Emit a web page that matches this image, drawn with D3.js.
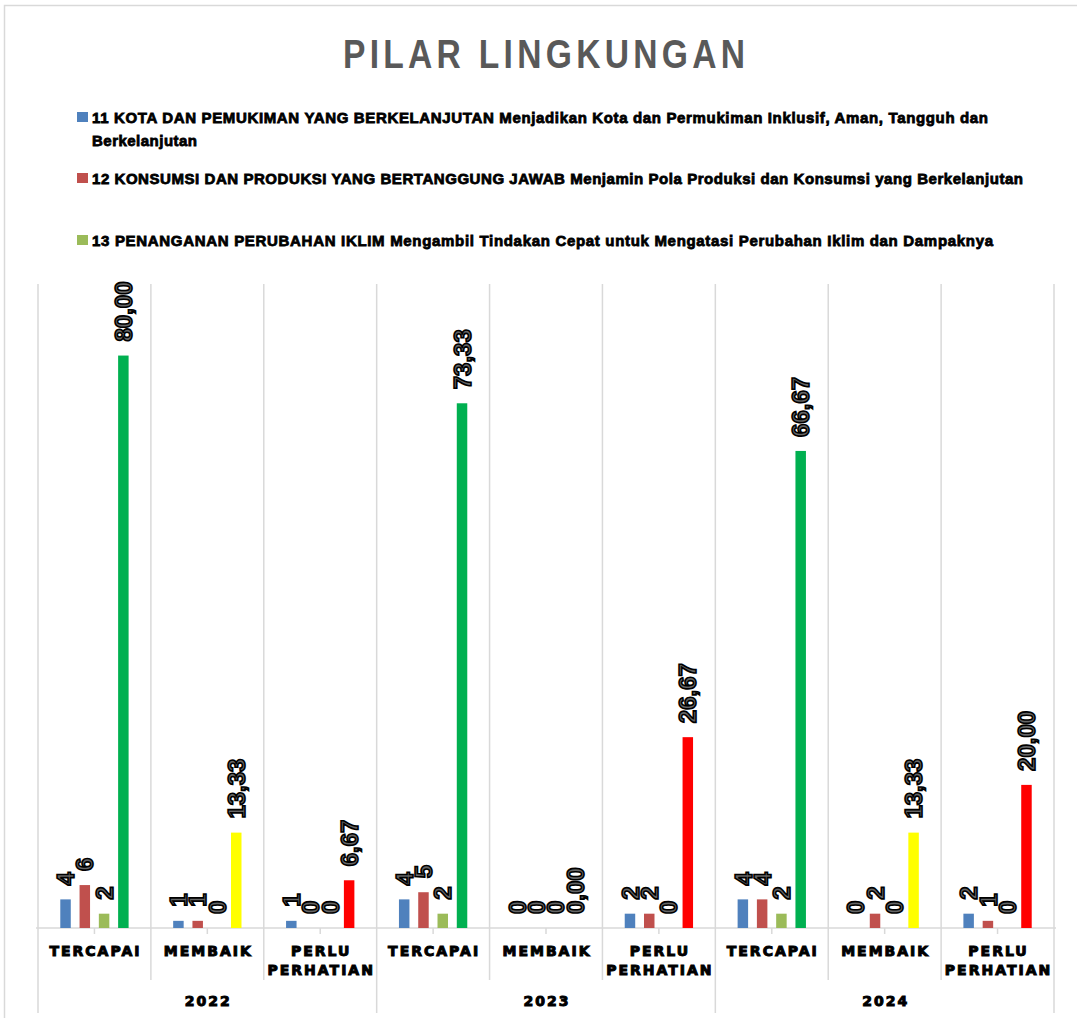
<!DOCTYPE html>
<html>
<head>
<meta charset="utf-8">
<script src="https://cdn.jsdelivr.net/npm/d3@7"></script>
<style>
  html, body { margin: 0; padding: 0; background: #fff; }
  svg { display: block; }
</style>
</head>
<body>
<svg id="chart" width="1077" height="1018"></svg>
<script>
// ---------- DATA ----------
const years = ["2022", "2023", "2024"];
const statuses = ["TERCAPAI", "MEMBAIK", "PERLU PERHATIAN"];
const sdg11 = [4, 1, 1, 4, 0, 2, 4, 0, 2];
const sdg12 = [6, 1, 0, 5, 0, 2, 4, 2, 1];
const sdg13 = [2, 0, 0, 2, 0, 0, 2, 0, 0];
const persen = [80.00, 13.33, 6.67, 73.33, 0.00, 26.67, 66.67, 13.33, 20.00];
const legendLabels = [
  ["11 KOTA DAN PEMUKIMAN YANG BERKELANJUTAN Menjadikan Kota dan Permukiman Inklusif, Aman, Tangguh dan", "Berkelanjutan"],
  ["12 KONSUMSI DAN PRODUKSI YANG BERTANGGUNG JAWAB Menjamin Pola Produksi dan Konsumsi yang Berkelanjutan"],
  ["13 PENANGANAN PERUBAHAN IKLIM Mengambil Tindakan Cepat untuk Mengatasi Perubahan Iklim dan Dampaknya"]
];
const titleText = "PILAR LINGKUNGAN";

// ---------- STYLE ----------
const seriesColors = ["#4f81bd", "#c0504d", "#9bbb59"];
const statusColors = { "TERCAPAI": "#00b050", "MEMBAIK": "#ffff00", "PERLU PERHATIAN": "#ff0000" };
const gridColor = "#d9d9d9";

const svg = d3.select("#chart");

// outer chart border
svg.append("rect").attr("x", 4.5).attr("y", 5.5).attr("width", 1200).attr("height", 1200)
  .attr("fill", "none").attr("stroke", gridColor).attr("stroke-width", 1.5);

// title (narrow, tall letters with generous spacing)
svg.append("text")
  .attr("transform", "translate(343,68) scale(0.82,1)")
  .attr("textLength", 402 / 0.82).attr("lengthAdjust", "spacing")
  .style("font-family", "'Liberation Sans', Arial, sans-serif")
  .style("font-size", "41px").style("font-weight", "bold")
  .attr("fill", "#595959")
  .text(titleText);

// legend
const legendRows = [{ y: 123, w: [896, 105] }, { y: 184, w: [931] }, { y: 246, w: [901] }];
legendLabels.forEach((lines, i) => {
  const g = svg.append("g");
  g.append("rect").attr("x", 77).attr("y", legendRows[i].y - 11).attr("width", 11).attr("height", 10)
    .attr("fill", seriesColors[i]);
  lines.forEach((ln, j) => {
    g.append("text")
      .attr("x", 92).attr("y", legendRows[i].y + j * 23)
      .attr("textLength", legendRows[i].w[j]).attr("lengthAdjust", "spacing")
      .style("font-family", "'Liberation Sans', Arial, sans-serif")
      .style("font-size", "15px").style("font-weight", "bold")
      .attr("fill", "#000").attr("stroke", "#000").attr("stroke-width", 0.8)
      .text(ln);
  });
});

// ---------- SCALES ----------
const cats = [];
years.forEach(y => statuses.forEach(s => cats.push({ year: y, status: s })));
const catIdx = cats.map((d, i) => i);

const x0 = d3.scaleBand().domain(catIdx).range([38, 1054]).paddingInner(0).paddingOuter(0);
const seriesKeys = ["s11", "s12", "s13", "pct"];
const x1 = d3.scaleBand().domain(seriesKeys).range([0, x0.bandwidth()])
  .paddingInner(0.456).paddingOuter(1.156);
const y = d3.scaleLinear().domain([0, 90]).range([928, 284]);

// gridlines (vertical at category boundaries)
const boundaries = d3.range(cats.length + 1).map(i => i < cats.length ? x0(i) : x0(cats.length - 1) + x0.bandwidth());
svg.append("g").selectAll("line").data(boundaries).join("line")
  .attr("x1", d => d).attr("x2", d => d)
  .attr("y1", y(90))
  .attr("y2", (d, i) => (i % 3 === 0) ? 1013 : 980)
  .attr("stroke", gridColor).attr("stroke-width", 1.5);

// category axis
svg.append("line").attr("x1", 36).attr("x2", 1056).attr("y1", y(0)).attr("y2", y(0))
  .attr("stroke", gridColor).attr("stroke-width", 1.5);
svg.append("g").selectAll("line").data(catIdx).join("line")
  .attr("x1", d => x0(d) + x0.bandwidth() / 2).attr("x2", d => x0(d) + x0.bandwidth() / 2)
  .attr("y1", y(0)).attr("y2", y(0) + 6)
  .attr("stroke", gridColor).attr("stroke-width", 1.5);

// ---------- BARS ----------
const rows = cats.map((c, i) => ({
  i, status: c.status,
  vals: [
    { key: "s11", v: sdg11[i], color: seriesColors[0], fmt: d3.format("d") },
    { key: "s12", v: sdg12[i], color: seriesColors[1], fmt: d3.format("d") },
    { key: "s13", v: sdg13[i], color: seriesColors[2], fmt: d3.format("d") },
    { key: "pct", v: persen[i], color: statusColors[c.status], fmt: v => d3.format(".2f")(v).replace(".", ",") }
  ]
}));

const catG = svg.append("g").selectAll("g").data(rows).join("g")
  .attr("transform", d => `translate(${x0(d.i)},0)`);

catG.selectAll("rect").data(d => d.vals).join("rect")
  .attr("x", d => x1(d.key)).attr("width", x1.bandwidth())
  .attr("y", d => y(d.v)).attr("height", d => y(0) - y(d.v))
  .attr("fill", d => d.color);

// data labels (rotated)
catG.selectAll("text.lbl").data(d => d.vals).join("text")
  .attr("class", "lbl")
  .attr("transform", d => `translate(${x1(d.key) + x1.bandwidth() / 2},${y(d.v) - 14}) rotate(-90)`)
  .attr("dy", "0.36em")
  .style("font-family", "'Liberation Sans', Arial, sans-serif")
  .style("font-size", "24px").style("font-weight", "bold")
  .attr("fill", "#666").attr("stroke", "#000").attr("stroke-width", 1.6)
  .text(d => d.fmt(d.v));

// category labels
const labFont = "'DejaVu Sans', sans-serif";
catG.each(function(d) {
  const g = d3.select(this);
  const words = d.status === "PERLU PERHATIAN" ? ["PERLU", "PERHATIAN"] : [d.status];
  words.forEach((w, j) => {
    g.append("text")
      .attr("x", x0.bandwidth() / 2 + 1).attr("y", 955.5 + j * 19)
      .attr("text-anchor", "middle")
      .style("font-family", labFont).style("font-size", "14px").style("font-weight", "bold")
      .style("letter-spacing", "2px")
      .attr("fill", "#000").attr("stroke", "#000").attr("stroke-width", 1)
      .text(w);
  });
});

// year labels
svg.append("g").selectAll("text").data(years).join("text")
  .attr("x", (d, i) => (x0(i * 3) + x0(i * 3 + 2) + x0.bandwidth()) / 2 + 1)
  .attr("y", 1005.5)
  .attr("text-anchor", "middle")
  .style("font-family", labFont).style("font-size", "14px").style("font-weight", "bold")
  .style("letter-spacing", "2px")
  .attr("fill", "#000").attr("stroke", "#000").attr("stroke-width", 1)
  .text(d => d);
</script>
</body>
</html>
